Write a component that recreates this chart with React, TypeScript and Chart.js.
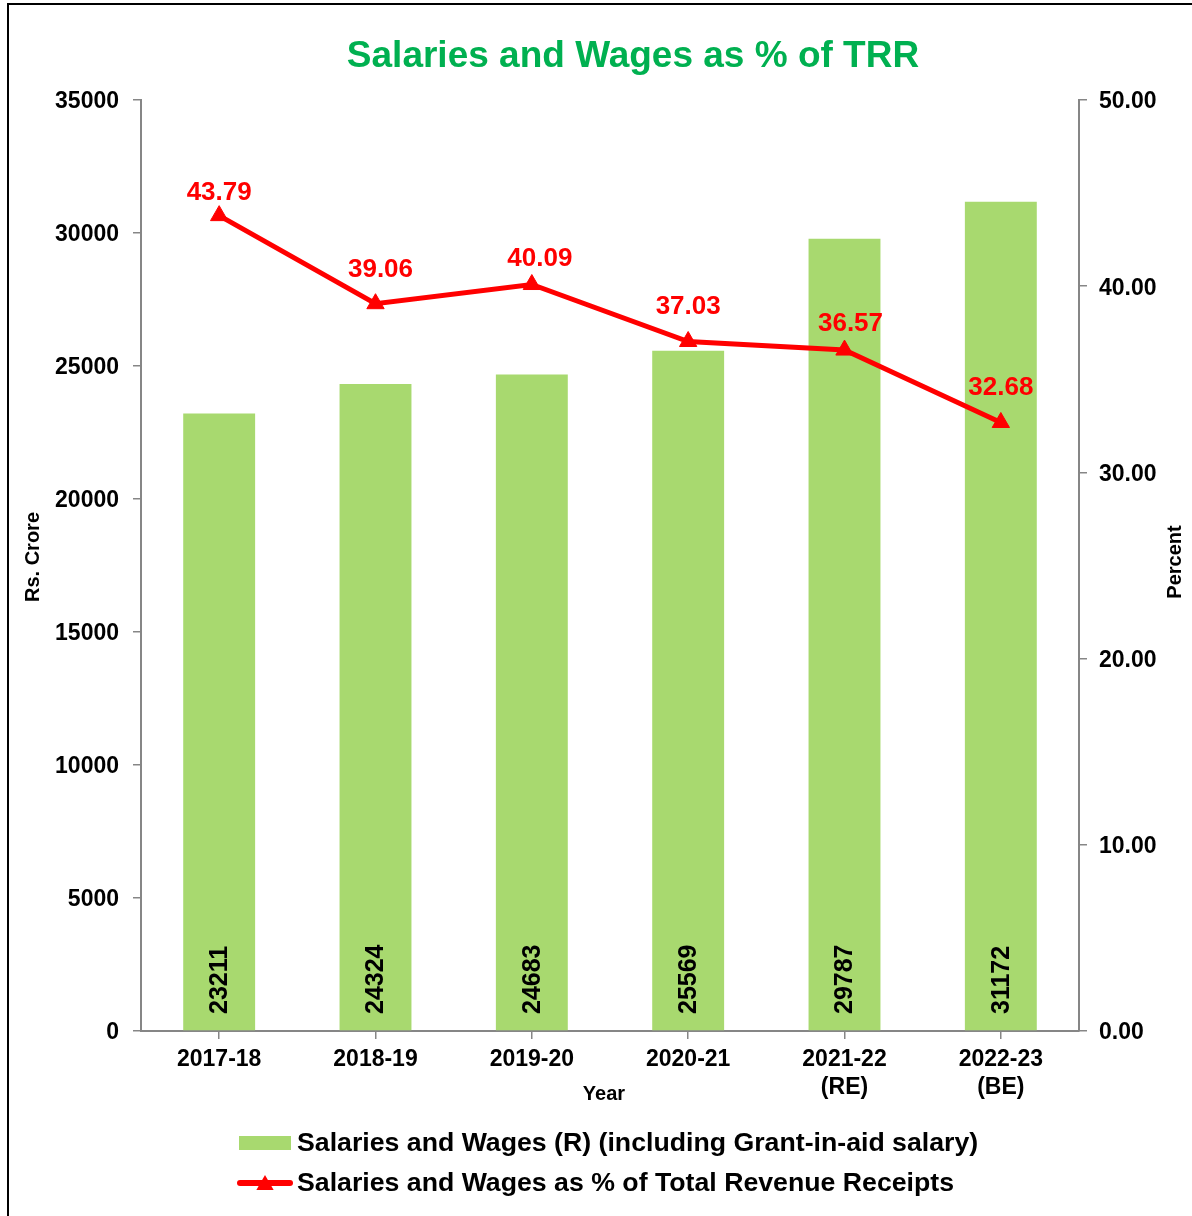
import React, { useEffect, useRef } from 'react';
import { Chart, registerables } from 'chart.js';

Chart.register(...registerables);

const FONT = '"Liberation Sans", Arial, Helvetica, sans-serif';

const chartTitle = 'Salaries and Wages as % of TRR';
const categories: (string | string[])[] = ['2017-18', '2018-19', '2019-20', '2020-21', ['2021-22', '(RE)'], ['2022-23', '(BE)']];
const salaryValues = [23211, 24324, 24683, 25569, 29787, 31172];
const percentValues = [43.79, 39.06, 40.09, 37.03, 36.57, 32.68];
const barLabel = 'Salaries and Wages (R) (including Grant-in-aid salary)';
const lineLabel = 'Salaries and Wages as % of Total Revenue Receipts';
const leftAxisTitle = 'Rs. Crore';
const rightAxisTitle = 'Percent';
const xAxisTitle = 'Year';

// label nudges (style only): horizontal / vertical offset of each % label from its point
const pctLabelDx = [0, 5, 8, 0, 6, 0];
const pctLabelDy = [-23, -34, -26, -35, -26, -35];

const BAR_COLOR = '#A8D96F';
const LINE_COLOR = '#FF0000';
const TITLE_COLOR = '#00B050';
const AXIS_COLOR = '#868686';

const customDraw = {
  id: 'customDraw',
  afterDatasetsDraw(chart: any) {
    const ctx = chart.ctx as CanvasRenderingContext2D;
    const area = chart.chartArea;
    ctx.save();
    // bar value labels (rotated)
    const barMeta = chart.getDatasetMeta(0);
    ctx.font = `bold 25px ${FONT}`;
    ctx.fillStyle = '#000000';
    ctx.textAlign = 'left';
    ctx.textBaseline = 'middle';
    barMeta.data.forEach((el: any, i: number) => {
      ctx.save();
      ctx.translate(el.x, area.bottom - 17);
      ctx.rotate(-Math.PI / 2);
      ctx.fillText(String(salaryValues[i]), 0, 1);
      ctx.restore();
    });
    // line value labels
    const lineMeta = chart.getDatasetMeta(1);
    ctx.font = `bold 26px ${FONT}`;
    ctx.fillStyle = LINE_COLOR;
    ctx.textAlign = 'center';
    ctx.textBaseline = 'middle';
    lineMeta.data.forEach((el: any, i: number) => {
      ctx.fillText(percentValues[i].toFixed(2), el.x + pctLabelDx[i], el.y + pctLabelDy[i]);
    });
    ctx.restore();
  },
  afterDraw(chart: any) {
    const ctx = chart.ctx as CanvasRenderingContext2D;
    const area = chart.chartArea;
    ctx.save();
    // main title
    ctx.font = `bold 37px ${FONT}`;
    ctx.fillStyle = TITLE_COLOR;
    ctx.textAlign = 'center';
    ctx.textBaseline = 'middle';
    ctx.fillText(chartTitle, 633, 57);

    // axis titles
    ctx.font = `bold 20px ${FONT}`;
    ctx.fillStyle = '#000000';
    ctx.save();
    ctx.translate(33, 557);
    ctx.rotate(-Math.PI / 2);
    ctx.fillText(leftAxisTitle, 0, 0);
    ctx.restore();

    ctx.save();
    ctx.translate(1175, 562);
    ctx.rotate(-Math.PI / 2);
    ctx.fillText(rightAxisTitle, 0, 0);
    ctx.restore();

    ctx.fillText(xAxisTitle, 604, area.bottom + 63);

    // legend
    ctx.font = `bold 26.7px ${FONT}`;
    ctx.fillStyle = BAR_COLOR;
    ctx.fillRect(239, 1136, 52, 14);
    ctx.fillStyle = '#000000';
    ctx.textAlign = 'left';
    ctx.textBaseline = 'middle';
    ctx.fillText(barLabel, 297, 1144);

    ctx.strokeStyle = LINE_COLOR;
    ctx.lineWidth = 6;
    ctx.lineCap = 'round';
    ctx.beginPath();
    ctx.moveTo(240, 1183);
    ctx.lineTo(290, 1183);
    ctx.stroke();
    ctx.fillStyle = LINE_COLOR;
    const cx = 265, cy = 1185, r = 10;
    ctx.beginPath();
    ctx.moveTo(cx, cy - r);
    ctx.lineTo(cx + r * Math.sin((2 * Math.PI) / 3), cy - r * Math.cos((2 * Math.PI) / 3));
    ctx.lineTo(cx + r * Math.sin((4 * Math.PI) / 3), cy - r * Math.cos((4 * Math.PI) / 3));
    ctx.closePath();
    ctx.fill();
    ctx.fillStyle = '#000000';
    ctx.fillText(lineLabel, 297, 1184);
    ctx.restore();
  },
};

export default function App() {
  const canvasRef = useRef<HTMLCanvasElement | null>(null);

  useEffect(() => {
    const canvas = canvasRef.current;
    if (!canvas) return;
    const chart = new Chart(canvas, {
      type: 'bar',
      data: {
        labels: categories as any,
        datasets: [
          {
            type: 'bar',
            label: barLabel,
            data: salaryValues,
            backgroundColor: BAR_COLOR,
            borderWidth: 0,
            barPercentage: 0.46,
            categoryPercentage: 1,
            yAxisID: 'y',
            order: 2,
          },
          {
            type: 'line',
            label: lineLabel,
            data: percentValues,
            borderColor: LINE_COLOR,
            backgroundColor: LINE_COLOR,
            borderWidth: 5,
            pointStyle: 'triangle',
            pointRadius: 10,
            pointBackgroundColor: LINE_COLOR,
            pointBorderColor: LINE_COLOR,
            pointBorderWidth: 1,
            tension: 0,
            yAxisID: 'y1',
            order: 1,
          } as any,
        ],
      },
      options: {
        responsive: false,
        animation: false,
        devicePixelRatio: 1,
        layout: { padding: { top: 100, bottom: 100, left: 0, right: 0 } },
        plugins: {
          legend: { display: false },
          title: { display: false },
          tooltip: { enabled: false },
        },
        scales: {
          x: {
            offset: true,
            grid: {
              offset: false,
              drawOnChartArea: false,
              drawTicks: true,
              tickLength: 8,
              color: AXIS_COLOR,
              lineWidth: 1.5,
            },
            border: { display: true, color: AXIS_COLOR, width: 2 },
            ticks: {
              color: '#000000',
              font: { family: FONT, size: 23, weight: 'bold', lineHeight: 1.2 },
              padding: 7,
              maxRotation: 0,
              autoSkip: false,
            },
            title: { display: false },
            afterFit: (scale: any) => {
              scale.height = 85;
            },
          },
          y: {
            position: 'left',
            min: 0,
            max: 35000,
            ticks: {
              stepSize: 5000,
              color: '#000000',
              font: { family: FONT, size: 23, weight: 'bold' },
              padding: 14,
              labelOffset: 2,
              callback: (v: any) => String(v),
            },
            grid: {
              drawOnChartArea: false,
              drawTicks: true,
              tickLength: 8,
              color: AXIS_COLOR,
              lineWidth: 1.5,
            },
            border: { display: true, color: AXIS_COLOR, width: 2 },
            title: { display: false },
            afterFit: (scale: any) => {
              scale.width = 141;
            },
          },
          y1: {
            position: 'right',
            min: 0,
            max: 50,
            ticks: {
              stepSize: 10,
              color: '#000000',
              font: { family: FONT, size: 23, weight: 'bold' },
              padding: 12,
              labelOffset: 2,
              callback: (v: any) => Number(v).toFixed(2),
            },
            grid: {
              drawOnChartArea: false,
              drawTicks: true,
              tickLength: 8,
              color: AXIS_COLOR,
              lineWidth: 1.5,
            },
            border: { display: true, color: AXIS_COLOR, width: 2 },
            afterFit: (scale: any) => {
              scale.width = 113;
            },
          },
        },
      } as any,
      plugins: [customDraw],
    });
    return () => chart.destroy();
  }, []);

  return (
    <div style={{ position: 'fixed', left: 0, top: 0, right: 0, bottom: 0, overflow: 'hidden', background: '#ffffff' }}>
      <div
        style={{
          position: 'absolute',
          left: 7,
          top: 3,
          width: 1300,
          height: 1300,
          border: '2px solid #000000',
          boxSizing: 'border-box',
        }}
      />
      <canvas ref={canvasRef} width={1192} height={1216} style={{ position: 'absolute', left: 0, top: 0, width: 1192, height: 1216 }} />
    </div>
  );
}
